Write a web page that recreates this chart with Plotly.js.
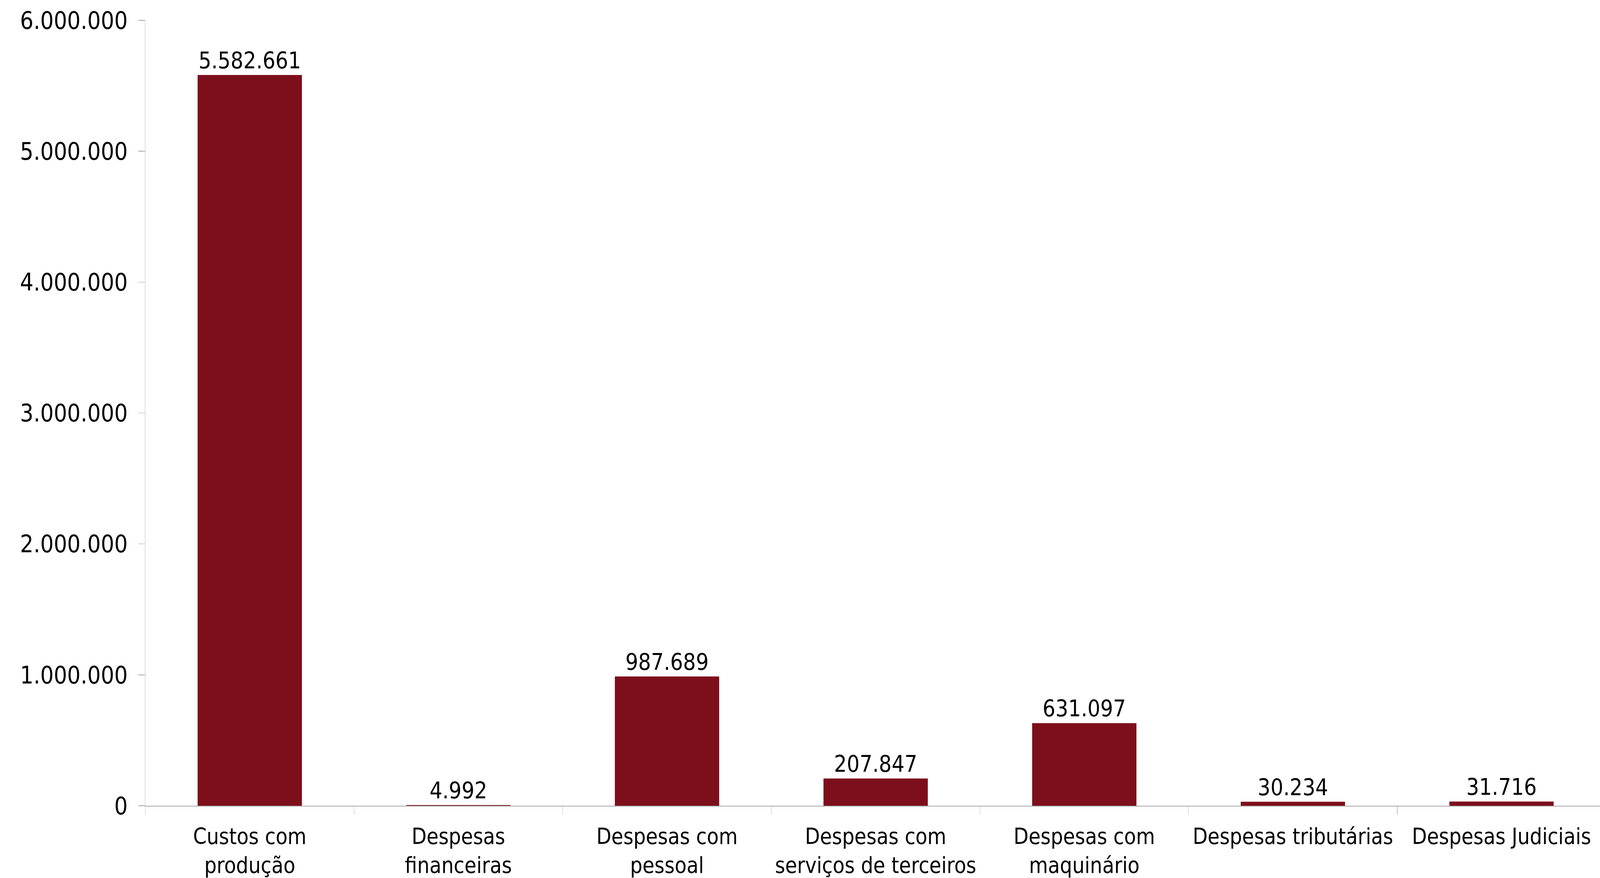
<!DOCTYPE html>
<html>
<head>
<meta charset="utf-8">
<script src="https://cdn.plot.ly/plotly-3.0.1.min.js"></script>
<style>
html,body{margin:0;padding:0;background:#fff;overflow:hidden;}
#chart{width:4686px;height:2248px;transform-origin:0 0;}
</style>
</head>
<body>
<div id="chart"></div>
<script>
const categories = [
  "Custos com<br>produção",
  "Despesas<br>financeiras",
  "Despesas com<br>pessoal",
  "Despesas com<br>serviços de terceiros",
  "Despesas com<br>maquinário",
  "Despesas tributárias",
  "Despesas Judiciais"
];
const values = [5582661, 4992, 987689, 207847, 631097, 30234, 31716];
const yTickValues = [0, 1000000, 2000000, 3000000, 4000000, 5000000, 6000000];

const FONT = "DejaVu Sans";
const barColor = "#7D0F1B";
const BASE_W = 4686, BASE_H = 2248;

// fit the fixed-size chart into the actual viewport
const vw = window.innerWidth || BASE_W;
const vh = window.innerHeight || BASE_H;
const sx = Math.min(1, vw / BASE_W), sy = Math.min(1, vh / BASE_H);
document.getElementById("chart").style.transform = "scale(" + sx + "," + sy + ")";

const trace = {
  type: "bar",
  x: categories,
  y: values,
  marker: {color: barColor},
  texttemplate: "%{y:,d}",
  textposition: "outside",
  textfont: {family: FONT, size: 59, color: "#000"},
  cliponaxis: false,
  hoverinfo: "none"
};

const layout = {
  width: BASE_W,
  height: BASE_H,
  margin: {l: 426, r: 0, t: 52, b: 185, pad: 0},
  paper_bgcolor: "#fff",
  plot_bgcolor: "#fff",
  separators: ",.",
  bargap: 0.5,
  showlegend: false,
  font: {family: FONT, size: 58, color: "#000"},
  xaxis: {
    type: "category",
    range: [-0.5, 6.472],
    showgrid: false,
    zeroline: false,
    showline: true,
    linecolor: "#a6a6a6",
    linewidth: 2,
    ticks: "outside",
    tickson: "boundaries",
    ticklen: 20,
    tickwidth: 1.5,
    tickcolor: "#bfbfbf",
    ticklabelstandoff: 28,
    tickfont: {family: FONT, size: 57, color: "#000"},
    tickangle: 0,
    fixedrange: true
  },
  yaxis: {
    range: [0, 6000000],
    tickvals: yTickValues,
    tickformat: ",d",
    showgrid: false,
    zeroline: false,
    showline: true,
    linecolor: "#bfbfbf",
    linewidth: 1.5,
    ticks: "outside",
    ticklen: 20,
    tickwidth: 1.5,
    tickcolor: "#a6a6a6",
    ticklabelstandoff: 18,
    tickfont: {family: FONT, size: 62, color: "#000"},
    fixedrange: true
  }
};

Plotly.newPlot("chart", [trace], layout, {staticPlot: true, displayModeBar: false});
</script>
</body>
</html>
